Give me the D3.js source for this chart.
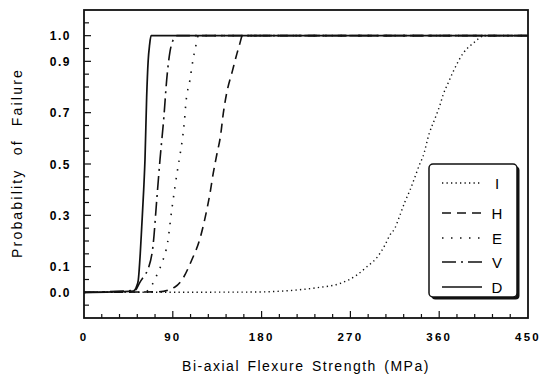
<!DOCTYPE html>
<html><head><meta charset="utf-8">
<script src="https://cdn.jsdelivr.net/npm/d3@7/dist/d3.min.js"></script>
<style>
body{margin:0;background:#fff;}
svg{display:block;}
text{font-family:"Liberation Sans",Arial,sans-serif;fill:#000;}
</style></head><body>
<svg id="c" width="543" height="378"></svg>
<script>
// ---- data (MPa, probability) ----
const seriesNames = ["I","H","E","V","D"];
const D = [[0,0],[50,0.005],[53,0.02],[55,0.047],[57,0.15],[58.5,0.255],[60.5,0.4],[61.8,0.516],[63.5,0.76],[65,0.9],[66.5,0.965],[68,1.0],[450,1.0]];
const V = [[0,0],[51.7,0.008],[56.8,0.04],[61,0.065],[65.2,0.093],[70.2,0.19],[73.7,0.359],[77,0.516],[81,0.685],[83.8,0.828],[87.2,0.939],[90,0.98],[92.5,0.997],[94,1.0],[450,1.0]];
const E = [[0,0],[61.8,0.001],[68.6,0.027],[73.7,0.066],[78.7,0.112],[84.8,0.196],[88.9,0.32],[92.2,0.411],[95.6,0.496],[97.3,0.535],[101.7,0.665],[103.4,0.743],[107.4,0.828],[110.8,0.913],[113.2,0.958],[116,1.0],[450,1.0]];
const H = [[0,0],[75,0.002],[92.2,0.021],[99,0.047],[109.1,0.125],[117.6,0.21],[122.6,0.288],[127.7,0.386],[131,0.464],[134.5,0.535],[138.5,0.613],[141.2,0.698],[144.6,0.776],[150.3,0.861],[155,0.93],[158,0.97],[160.5,1.0],[450,1.0]];
const I = [[0,0],[168,0.001],[212,0.008],[236,0.018],[259,0.034],[276,0.066],[286.5,0.099],[298,0.141],[305,0.184],[310,0.223],[315,0.249],[319.6,0.294],[325.3,0.353],[330.4,0.398],[335.5,0.45],[340.6,0.503],[343.3,0.526],[350,0.62],[356,0.68],[360.8,0.73],[364,0.77],[369,0.815],[374.3,0.861],[384.4,0.932],[394.6,0.971],[406,1.0],[450,1.0]];
const xTickLabels = [0,90,180,270,360,450];
const yTickLabels = ["0.0","0.1","0.3","0.5","0.7","0.9","1.0"];
const xTitle = "Bi-axial Flexure Strength (MPa)";
const yTitle = "Probability of Failure";

// ---- layout ----
const W=543,H_=378, m={l:84,r:15,t:10,b:60};
const svg=d3.select("#c");
const x=d3.scaleLinear().domain([0,450]).range([m.l,W-m.r]);
const y=d3.scaleLinear().domain([-0.1,1.1]).range([H_-m.b,m.t]);

const styles = {
  I:{dash:"1.3,3.2",w:1.4},
  H:{dash:"9,6",w:1.6},
  E:{dash:"1.5,7.5",w:1.6},
  V:{dash:"14,5,2,5",w:1.6},
  D:{dash:null,w:1.7}
};
const dataMap={I,H,E,V,D};

// frame
svg.append("rect").attr("x",x(0)).attr("y",y(1.1)).attr("width",x(450)-x(0)).attr("height",y(-0.1)-y(1.1))
  .attr("fill","none").attr("stroke","#111").attr("stroke-width",1.8);

// x ticks (inside)
const xMinor=d3.range(18,450,18);
svg.append("g").selectAll("line").data(xMinor).join("line")
  .attr("x1",d=>x(d)).attr("x2",d=>x(d))
  .attr("y1",y(-0.1)).attr("y2",d=>y(-0.1)-(d%90===0?7:4))
  .attr("stroke","#111").attr("stroke-width",1.2);
svg.append("g").selectAll("text").data(xTickLabels).join("text")
  .attr("x",d=>x(d)).attr("y",341).attr("text-anchor","middle")
  .attr("font-size",11.5).attr("font-weight","bold").attr("letter-spacing","2.2px")
  .text(d=>d);

// y ticks (inside)
const yMinor=d3.range(-1,22).map(i=>i*0.05);
svg.append("g").selectAll("line").data(yMinor).join("line")
  .attr("x1",x(0)).attr("x2",d=>x(0)+ (yTickLabels.includes(d.toFixed(1))&&Math.abs(d*10-Math.round(d*10))<1e-6?7:5))
  .attr("y1",d=>y(d)).attr("y2",d=>y(d))
  .attr("stroke","#111").attr("stroke-width",1.2);
svg.append("g").selectAll("text").data(yTickLabels).join("text")
  .attr("x",71).attr("y",d=>y(+d)+4.5).attr("text-anchor","end")
  .attr("font-size",12).attr("font-weight","bold").attr("letter-spacing","1.5px")
  .text(d=>d);

// titles
svg.append("text").attr("x",306).attr("y",371).attr("text-anchor","middle")
  .attr("font-size",14).attr("letter-spacing","1.5px").attr("word-spacing","2px").text(xTitle);
svg.append("text").attr("transform","translate(22,163) rotate(-90)").attr("text-anchor","middle")
  .attr("font-size",14).attr("letter-spacing","2.2px").attr("word-spacing","7px").text(yTitle);

// curves
const line=d3.line().x(d=>x(d[0])).y(d=>y(d[1])).curve(d3.curveMonotoneX);
seriesNames.forEach(n=>{
  const s=styles[n];
  svg.append("path").datum(dataMap[n]).attr("d",line)
    .attr("fill","none").attr("stroke","#111").attr("stroke-width",s.w)
    .attr("stroke-dasharray",s.dash);
});

// legend
const lg={x:429,y:164,w:88,h:133};
svg.append("rect").attr("x",lg.x+2.5).attr("y",lg.y+2.5).attr("width",lg.w).attr("height",lg.h).attr("rx",4)
  .attr("fill","#111");
svg.append("rect").attr("x",lg.x).attr("y",lg.y).attr("width",lg.w).attr("height",lg.h).attr("rx",4)
  .attr("fill","#fff").attr("stroke","#111").attr("stroke-width",1.5);
const lgY=[183,213,238,262,287];
seriesNames.forEach((n,i)=>{
  const s=styles[n];
  svg.append("line").attr("x1",442).attr("x2",482).attr("y1",lgY[i]).attr("y2",lgY[i])
    .attr("stroke","#111").attr("stroke-width",s.w).attr("stroke-dasharray",s.dash);
  svg.append("text").attr("x",497).attr("y",lgY[i]+5.5).attr("text-anchor","middle")
    .attr("font-size",15).text(n);
});
</script>
</body></html>
